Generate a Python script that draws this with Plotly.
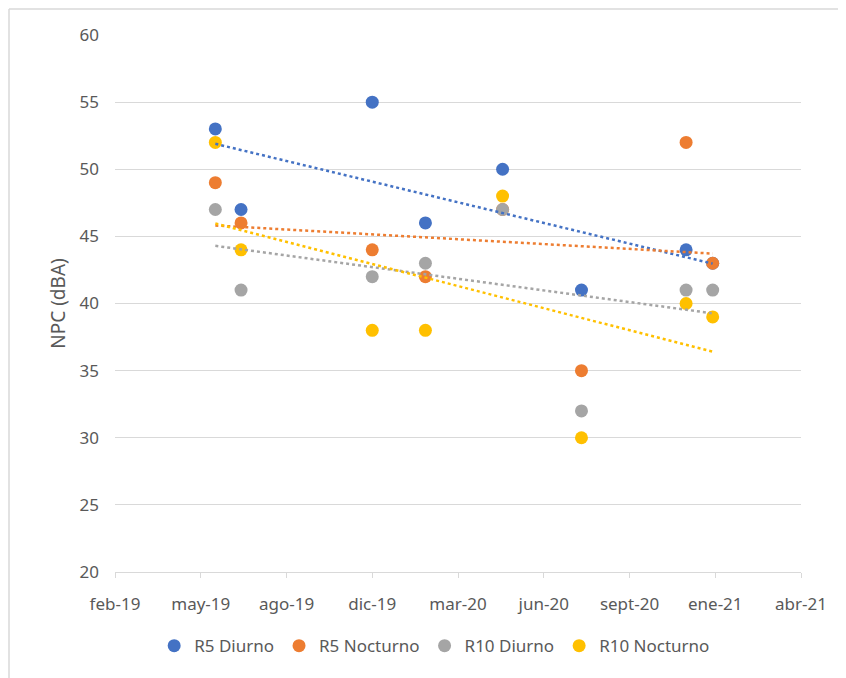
import numpy as np
import pandas as pd
import plotly.graph_objects as go

dates = ["2019-06-01", "2019-07-01", "2019-12-01", "2020-02-01",
         "2020-05-01", "2020-08-01", "2020-12-01", "2021-01-01"]
r5_diurno = [53, 47, 55, 46, 50, 41, 44, 43]
r5_nocturno = [49, 46, 44, 42, 47, 35, 52, 43]
r10_diurno = [47, 41, 42, 43, 47, 32, 41, 41]
r10_nocturno = [52, 44, 38, 38, 48, 30, 40, 39]

series_names = ["R5 Diurno", "R5 Nocturno", "R10 Diurno", "R10 Nocturno"]
series_values = [r5_diurno, r5_nocturno, r10_diurno, r10_nocturno]
colors = ["#4472C4", "#ED7D31", "#A5A5A5", "#FFC000"]

tick_labels = ["feb-19", "may-19", "ago-19", "dic-19", "mar-20",
               "jun-20", "sept-20", "ene-21", "abr-21"]
axis_start = "2019-02-04"
axis_end = "2021-04-14"

tickvals = pd.date_range(axis_start, periods=9, freq="100D")
dts = pd.to_datetime(dates)
days = np.array([(d - pd.Timestamp(axis_start)).days for d in dts], dtype=float)

fig = go.Figure()

for name, vals, col in zip(series_names, series_values, colors):
    fig.add_trace(go.Scatter(
        x=dts, y=vals, mode="markers", name=name,
        marker=dict(color=col, size=13, line=dict(width=0)),
    ))

for name, vals, col in zip(series_names, series_values, colors):
    slope, intercept = np.polyfit(days, np.array(vals, dtype=float), 1)
    xs = [dts.min(), dts.max()]
    ys = [intercept + slope * days.min(), intercept + slope * days.max()]
    fig.add_trace(go.Scatter(
        x=xs, y=ys, mode="lines", showlegend=False, hoverinfo="skip",
        line=dict(color=col, width=2.5, dash="dot"),
    ))

# page body has an 8px margin, so the figure is sized/shifted to compensate
W, H = 838, 670
L, T = 107, 27
pw, ph = 686, 537
R = W - L - pw
B = H - T - ph

fig.update_layout(
    width=W, height=H,
    margin=dict(l=L, r=R, t=T, b=B),
    paper_bgcolor="white", plot_bgcolor="white",
    font=dict(family="Noto Sans", size=17, color="#595959"),
    showlegend=True,
    legend=dict(orientation="h", x=0.466, xanchor="center", y=-0.138, yanchor="middle",
                font=dict(size=17, color="#595959"), itemwidth=30, tracegroupgap=0),
    xaxis=dict(
        type="date", range=[axis_start, axis_end],
        tickvals=list(tickvals), ticktext=tick_labels,
        showgrid=False, showline=True, linecolor="#d9d9d9", linewidth=1,
        ticks="outside", ticklen=5, tickcolor="#d9d9d9",
        ticklabelstandoff=12,
        zeroline=False, tickfont=dict(size=17, color="#595959"),
    ),
    yaxis=dict(
        range=[20, 60], dtick=5, tick0=20,
        showgrid=True, gridcolor="#d9d9d9", gridwidth=1,
        zeroline=False, showline=False, ticks="",
        ticklabelstandoff=15,
        title=dict(text="NPC (dBA)", font=dict(size=19, color="#595959"), standoff=8),
        tickfont=dict(size=17, color="#595959"),
    ),
    shapes=[
        dict(type="line", xref="paper", yref="paper",
             x0=(1 - L) / pw, x1=(1 - L) / pw,
             y0=(H - B - 1) / ph, y1=(H - B - H - 10) / ph,
             line=dict(color="#d9d9d9", width=1.5)),
        dict(type="line", xref="paper", yref="paper",
             x0=(1 - L) / pw, x1=(W + 10 - L) / pw,
             y0=(H - B - 1) / ph, y1=(H - B - 1) / ph,
             line=dict(color="#d9d9d9", width=1.5)),
    ],
)

fig.write_html("out.html")
